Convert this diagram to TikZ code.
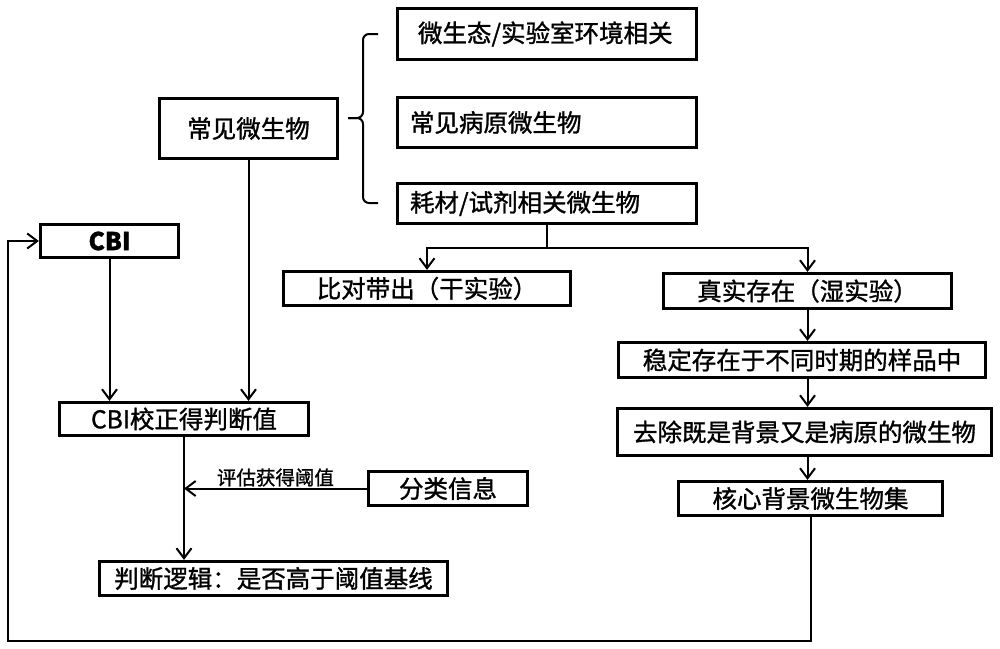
\documentclass[tikz,border=0pt]{standalone}
\usepackage{fontspec}
\setmainfont{Noto Sans CJK SC}[FakeBold=1.2]
\usetikzlibrary{arrows.meta}
\begin{document}
\begin{tikzpicture}[x=1pt,y=-1pt,
  box/.style={draw, line width=3.2pt, inner sep=0pt, font=\fontsize{24.5}{26}\selectfont},
  lbox/.style={box, text width=274pt, align=left},
  conn/.style={line width=2pt},
  arr/.style={conn, -{Straight Barb[length=10pt,width=15pt,line width=2pt]}},
  lab/.style={font=\fontsize{19.5}{21}\selectfont, inner sep=0pt}]
\useasboundingbox (0,0) rectangle (1000,648);
% top-right group
\node[lbox, minimum width=299pt, minimum height=51pt] (env) at (547,34) {\hspace*{8pt}微生态/实验室环境相关};
\node[lbox, minimum width=299pt, minimum height=50pt] (path) at (547,122.5) {常见病原微生物};
\node[lbox, minimum width=299pt, minimum height=40pt] (reag) at (547,203.5) {耗材/试剂相关微生物};
\node[box, minimum width=178pt, minimum height=60pt] (common) at (248.5,128.5) {常见微生物};
% brace
\draw[conn, rounded corners=6pt] (378,34) -- (363,34) -- (363,118) -- (348,118);
\draw[conn, rounded corners=6pt] (348,118) -- (363,118) -- (363,203) -- (378,203);
% left column
\node[box, minimum width=138pt, minimum height=33pt, font=\fontsize{24.5}{26}\selectfont\bfseries] (cbi) at (109.5,241) {CBI};
\node[box, minimum width=249pt, minimum height=33pt] (calib) at (184,419) {CBI校正得判断值};
\node[box, minimum width=159pt, minimum height=34pt] (cls) at (448,488.5) {分类信息};
\node[box, minimum width=348pt, minimum height=34pt] (judge) at (273.5,578.5) {判断逻辑：是否高于阈值基线};
% right column
\node[box, minimum width=287pt, minimum height=34pt] (dry) at (427,288.5) {比对带出（干实验）};
\node[box, minimum width=288pt, minimum height=35pt] (wet) at (807.5,291) {真实存在（湿实验）};
\node[box, minimum width=367pt, minimum height=35pt] (stable) at (802,360) {稳定存在于不同时期的样品中};
\node[box, minimum width=374pt, minimum height=47pt] (remove) at (804.5,432) {去除既是背景又是病原的微生物};
\node[box, minimum width=264pt, minimum height=34pt] (core) at (810.5,498.5) {核心背景微生物集};
% connectors
\draw[conn] (reag.south) -- ++(0,23) coordinate (split);
\draw[arr] (split) -| (dry.north);
\draw[arr] (split) -| (wet.north);
\draw[arr] (wet.south) -- (wet.south |- stable.north);
\draw[arr] (wet.south |- stable.south) -- (wet.south |- remove.north);
\draw[arr] (wet.south |- remove.south) -- (wet.south |- core.north);
\coordinate (fb) at (8,641);
\draw[arr] (core.south) |- (fb) |- (cbi.west);
\draw[arr] (cbi.south) -- (cbi.south |- calib.north);
\draw[arr] (common.south) -- (common.south |- calib.north);
\draw[arr] (calib.south) -- (calib.south |- judge.north);
\draw[arr] (cls.west) -- (cls.west -| calib.south) node[lab, midway, above=1pt] {评估获得阈值};
\end{tikzpicture}
\end{document}
